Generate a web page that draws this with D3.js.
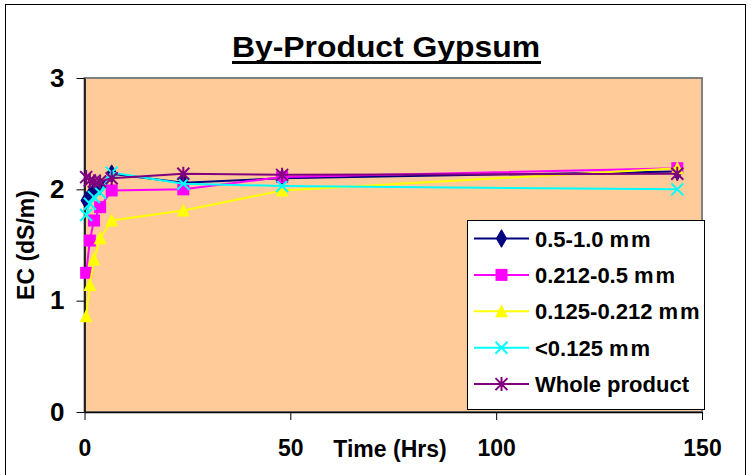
<!DOCTYPE html>
<html><head><meta charset="utf-8">
<script src="https://cdn.jsdelivr.net/npm/d3@7"></script>
<style>body{margin:0;background:#fff}svg{display:block}text{font-family:"Liberation Sans",Arial,sans-serif;font-weight:bold}</style>
</head><body><svg id="c" width="751" height="475"></svg>
<script>
const times = [0.4, 1.3, 2.3, 3.8, 6.6, 24, 48, 144];
const seriesNames = ["0.5-1.0 mm", "0.212-0.5 mm", "0.125-0.212 mm", "<0.125 mm", "Whole product"];
const s1 = [1.90, 1.94, 1.98, 2.03, 2.14, 2.06, 2.10, 2.16];
const s2 = [1.25, 1.54, 1.72, 1.84, 1.99, 2.00, 2.11, 2.19];
const s3 = [0.86, 1.14, 1.37, 1.56, 1.72, 1.81, 1.99, 2.19];
const s4 = [1.77, 1.87, 1.93, 1.97, 2.15, 2.05, 2.03, 2.00];
const s5 = [2.11, 2.08, 2.07, 2.07, 2.10, 2.14, 2.13, 2.14];
const xTicks = [0, 50, 100, 150];
const yTicks = [0, 1, 2, 3];

const colors = ["#000080", "#FF00FF", "#FFFF00", "#00FFFF", "#800080"];
const shapes = ["diamond", "square", "triangle", "x", "star"];
const values = [s1, s2, s3, s4, s5];

const svg = d3.select("#c");
const L = 84.5, R = 702, T = 78, B = 412;
const x = d3.scaleLinear().domain([0, 150]).range([L, R]);
const y = d3.scaleLinear().domain([0, 3]).range([B, T]);

// outer frame
svg.append("rect").attr("x", 5.5).attr("y", 4.5).attr("width", 740).attr("height", 480)
  .attr("fill", "#fff").attr("stroke", "#000").attr("stroke-width", 1);

// plot area
svg.append("rect").attr("x", L).attr("y", T).attr("width", R - L).attr("height", B - T)
  .attr("fill", "#FFCC99").attr("stroke", "#808080").attr("stroke-width", 2);

// title
svg.append("text").attr("x", 386).attr("y", 57).attr("text-anchor", "middle")
  .attr("font-size", 29).attr("fill", "#000").text("By-Product Gypsum")
  .attr("textLength", 308).attr("lengthAdjust", "spacingAndGlyphs");
svg.append("rect").attr("x", 232).attr("y", 61).attr("width", 309).attr("height", 3).attr("fill", "#000");

// axes
const ya = svg.append("g").attr("transform", `translate(${L},0)`)
  .call(d3.axisLeft(y).tickValues(yTicks).tickFormat(d3.format("d")).tickSize(8).tickPadding(12).tickSizeOuter(0));
ya.select(".domain").attr("stroke", "#000").attr("stroke-width", 1.5);
ya.selectAll("text").attr("font-size", 26).attr("font-family", "Liberation Sans, Arial").attr("font-weight", "bold");

const xa = svg.append("g").attr("transform", `translate(0,${B})`)
  .call(d3.axisBottom(x).tickValues(xTicks).tickFormat(d3.format("d")).tickSize(8).tickPadding(20).tickSizeOuter(0));
xa.select(".domain").attr("stroke", "#000").attr("stroke-width", 1.5);
xa.selectAll("text").attr("font-size", 23).attr("font-family", "Liberation Sans, Arial").attr("font-weight", "bold");

svg.append("text").attr("x", 390).attr("y", 457).attr("text-anchor", "middle").attr("font-size", 23)
  .text("Time (Hrs)");
svg.append("text").attr("transform", "translate(34,245) rotate(-90)").attr("text-anchor", "middle")
  .attr("font-size", 23).text("EC (dS/m)");

function marker(g, shape, color, cx, cy) {
  if (shape === "diamond") {
    g.append("path").attr("d", d3.symbol(d3.symbolDiamond, 90)()).attr("transform", `translate(${cx},${cy})`)
      .attr("fill", color).attr("stroke", color);
  } else if (shape === "square") {
    g.append("rect").attr("x", cx - 6).attr("y", cy - 6).attr("width", 12).attr("height", 12).attr("fill", color);
  } else if (shape === "triangle") {
    g.append("path").attr("d", `M${cx},${cy - 7}L${cx + 6.5},${cy + 6}L${cx - 6.5},${cy + 6}Z`).attr("fill", color);
  } else if (shape === "x") {
    g.append("path").attr("d", `M${cx - 6},${cy - 6}L${cx + 6},${cy + 6}M${cx + 6},${cy - 6}L${cx - 6},${cy + 6}`)
      .attr("stroke", color).attr("stroke-width", 2).attr("fill", "none");
  } else if (shape === "star") {
    g.append("path").attr("d", `M${cx - 6},${cy - 6}L${cx + 6},${cy + 6}M${cx + 6},${cy - 6}L${cx - 6},${cy + 6}M${cx},${cy - 7}L${cx},${cy + 7}`)
      .attr("stroke", color).attr("stroke-width", 2).attr("fill", "none");
  }
}

const line = d3.line().x(d => x(d[0])).y(d => y(d[1]));
values.forEach((vals, i) => {
  const g = svg.append("g");
  const pts = times.map((t, j) => [t, vals[j]]);
  g.append("path").attr("d", line(pts)).attr("fill", "none").attr("stroke", colors[i]).attr("stroke-width", 2);
  pts.forEach(p => marker(g, shapes[i], colors[i], x(p[0]), y(p[1])));
});

// legend
const lg = svg.append("g");
lg.append("rect").attr("x", 467.5).attr("y", 220.5).attr("width", 237).attr("height", 189)
  .attr("fill", "#fff").attr("stroke", "#000").attr("stroke-width", 1);
seriesNames.forEach((n, i) => {
  const cy = 238.5 + i * 36.4;
  lg.append("line").attr("x1", 474).attr("x2", 529).attr("y1", cy).attr("y2", cy)
    .attr("stroke", colors[i]).attr("stroke-width", 2);
  marker(lg, shapes[i], colors[i], 501.5, cy);
  lg.append("text").attr("x", 535).attr("y", cy + 8).attr("font-size", 22).text(n.replace("mm", "m\u200Am"));
});
</script></body></html>
